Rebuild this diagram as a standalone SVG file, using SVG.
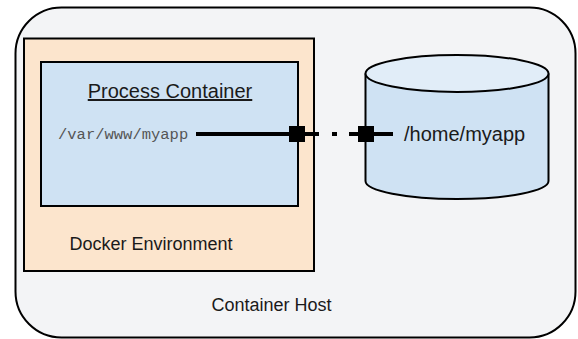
<svg xmlns="http://www.w3.org/2000/svg" width="578" height="339" viewBox="0 0 578 339">
<style>
.lbl{font-family:"Liberation Sans",Arial,sans-serif;fill:#1a1a1a}
.box{stroke:#000;stroke-width:2}
.conn{stroke:#000;stroke-width:4;fill:none}
</style>
<rect width="578" height="339" fill="#ffffff"/>
<g id="container-host">
<rect class="box" x="15.5" y="7.5" width="560" height="330" rx="46" ry="46" fill="#f3f4f6"/>
<text class="lbl" x="271.5" y="311" font-size="18" text-anchor="middle">Container Host</text>
</g>
<g id="docker-environment">
<rect class="box" x="24" y="38.5" width="290" height="232.5" fill="#fce5cd"/>
<text class="lbl" x="151" y="250" font-size="18" text-anchor="middle">Docker Environment</text>
</g>
<g id="process-container">
<rect class="box" x="41" y="62" width="257" height="144" fill="#cfe2f3"/>
<text class="lbl" x="170" y="98" font-size="20" text-anchor="middle" text-decoration="underline">Process Container</text>
<text x="58" y="139" font-size="15.5" font-family="'Liberation Mono','Courier New',monospace" fill="#555">/var/www/myapp</text>
</g>
<g id="home-myapp">
<path class="box" d="M365.5,73.5 V181 A91.5,18 0 0 0 548.5,181 V73.5" fill="#cfe2f3"/>
<ellipse class="box" cx="457" cy="73.5" rx="91.5" ry="18.5" fill="#e1edf8"/>
<text class="lbl" x="404" y="141" font-size="20">/home/myapp</text>
</g>
<g id="connectors">
<path class="conn" d="M196,134 H319 M332,134 H337 M349,134 H393"/>
<rect x="289" y="126" width="16" height="16" fill="#000"/>
<rect x="358" y="126" width="16" height="16" fill="#000"/>
</g>
</svg>
